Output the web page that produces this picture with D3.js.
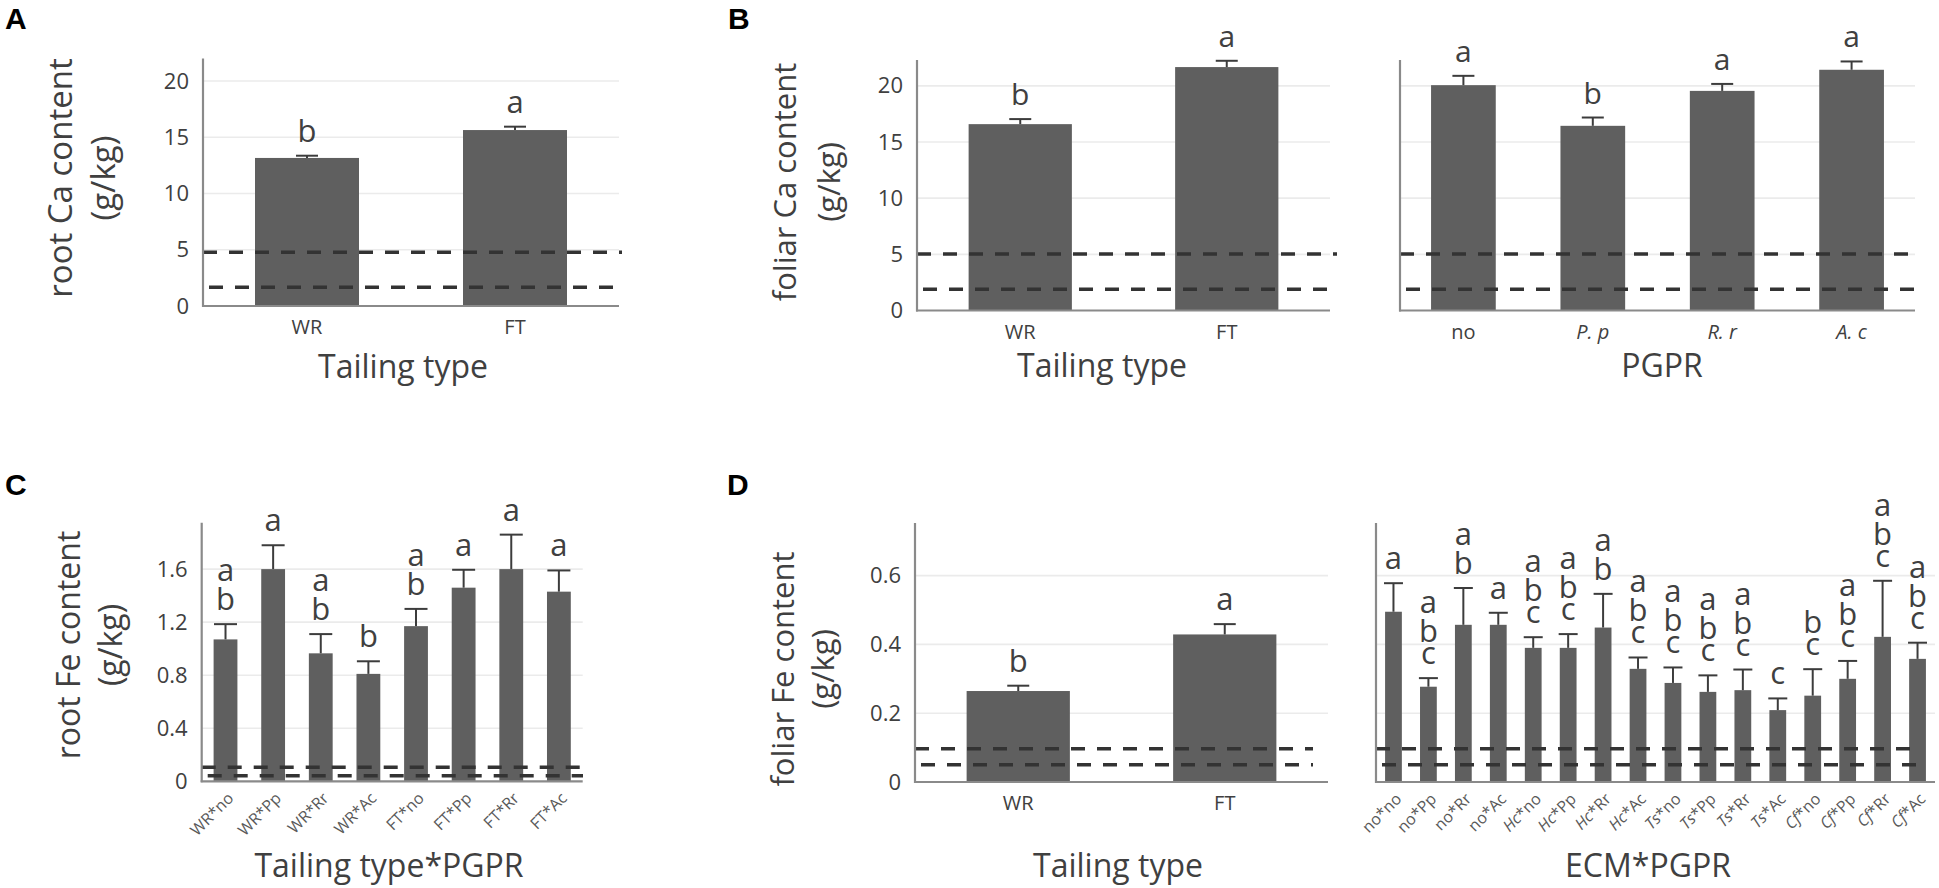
<!DOCTYPE html>
<html><head><meta charset="utf-8">
<script src="https://cdn.jsdelivr.net/npm/d3@7/dist/d3.min.js"></script>
<style>body{margin:0;background:#fff}svg{display:block}</style>
</head><body>
<script>
// ---------- DATA ----------
const tailCats = ["WR", "FT"];
const aVals = [13.16, 15.64];
const aErrs = [0.2, 0.3];
const aLetters = ["b", "a"];
const aTicks = [0, 5, 10, 15, 20];
const aLimits = [4.77, 1.66];

const bTailVals = [16.59, 21.67];
const bTailErrs = [0.45, 0.56];
const bTailLetters = ["b", "a"];
const pgprCats = ["no", "P. p", "R. r", "A. c"];
const bPgprVals = [20.06, 16.44, 19.55, 21.43];
const bPgprErrs = [0.83, 0.74, 0.62, 0.74];
const bPgprLetters = ["a", "b", "a", "a"];
const bTicks = [0, 5, 10, 15, 20];
const bLimits = [5.03, 1.89];

const cCats = ["WR*no", "WR*Pp", "WR*Rr", "WR*Ac", "FT*no", "FT*Pp", "FT*Rr", "FT*Ac"];
const cVals = [1.07, 1.6, 0.965, 0.81, 1.17, 1.46, 1.6, 1.43];
const cErrs = [0.115, 0.18, 0.145, 0.095, 0.13, 0.135, 0.26, 0.16];
const cLetters = ["ab", "a", "ab", "b", "ab", "a", "a", "a"];
const cTicks = [0, 0.4, 0.8, 1.2, 1.6];
const cLimits = [0.106, 0.042];

const dTailVals = [0.2645, 0.429];
const dTailErrs = [0.0155, 0.03];
const dTailLetters = ["b", "a"];
const ecmCats = ["no*no", "no*Pp", "no*Rr", "no*Ac", "Hc*no", "Hc*Pp", "Hc*Rr", "Hc*Ac",
                 "Ts*no", "Ts*Pp", "Ts*Rr", "Ts*Ac", "Cf*no", "Cf*Pp", "Cf*Rr", "Cf*Ac"];
const dEcmVals = [0.495, 0.277, 0.457, 0.457, 0.39, 0.39, 0.449, 0.329,
                  0.288, 0.262, 0.267, 0.209, 0.251, 0.30, 0.422, 0.358];
const dEcmErrs = [0.083, 0.025, 0.107, 0.035, 0.031, 0.04, 0.098, 0.033,
                  0.045, 0.048, 0.06, 0.034, 0.077, 0.052, 0.163, 0.047];
const dEcmLetters = ["a", "abc", "ab", "a", "abc", "abc", "ab", "abc",
                     "abc", "abc", "abc", "c", "bc", "abc", "abc", "abc"];
const dTicks = [0, 0.2, 0.4, 0.6];
const dLimits = [0.097, 0.05];

// ---------- DRAW ----------
const W = 1939, H = 888;
const svg = d3.select("body").append("svg").attr("width", W).attr("height", H)
  .style("font-family", "'Open Sans', sans-serif");

const BAR = "#5f5f5f", TXT = "#404040", AXIS = "#8a8a8a", GRID = "#ebebeb";

function panel(o) {
  const g = svg.append("g");
  const x = d3.scaleBand().domain(o.cats).range([o.x0, o.x1])
    .paddingInner(o.padIn).paddingOuter(o.padOut);
  const y = d3.scaleLinear().domain([0, o.yMax]).range([o.base, o.top]);
  const cx = i => x(o.cats[i]) + x.bandwidth() / 2;

  // gridlines
  g.selectAll(".grid").data(o.ticks.filter(t => t > 0)).join("line")
    .attr("x1", o.x0).attr("x2", o.x1)
    .attr("y1", d => y(d)).attr("y2", d => y(d))
    .attr("stroke", GRID).attr("stroke-width", 1.6);

  // bars
  g.selectAll(".bar").data(o.vals).join("rect")
    .attr("x", (d, i) => x(o.cats[i])).attr("width", x.bandwidth())
    .attr("y", d => y(d)).attr("height", d => y(0) - y(d))
    .attr("fill", BAR);

  // error bars
  const eb = g.selectAll(".eb").data(o.vals).join("g");
  eb.append("line")
    .attr("x1", (d, i) => cx(i)).attr("x2", (d, i) => cx(i))
    .attr("y1", d => y(d)).attr("y2", (d, i) => y(d + o.errs[i]))
    .attr("stroke", "#3c3c3c").attr("stroke-width", 2);
  eb.append("line")
    .attr("x1", (d, i) => cx(i) - o.capW / 2).attr("x2", (d, i) => cx(i) + o.capW / 2)
    .attr("y1", (d, i) => y(d + o.errs[i])).attr("y2", (d, i) => y(d + o.errs[i]))
    .attr("stroke", "#3c3c3c").attr("stroke-width", 2);

  // significance letters: one text element per bar, glyphs stacked via x/y lists
  o.vals.forEach((d, i) => {
    const letters = o.letters[i].split("");
    const bottom = y(d + o.errs[i]) - 14;
    const offs = new Array(letters.length).fill(0);
    for (let k = letters.length - 2; k >= 0; k--) {
      offs[k] = offs[k + 1] + (letters[k + 1] === "c" ? 22 : 29);
    }
    g.append("text").attr("text-anchor", "middle")
      .attr("font-size", o.letterSize).attr("fill", TXT)
      .attr("x", letters.map(() => cx(i).toFixed(2)).join(" "))
      .attr("y", offs.map(v => (bottom - v).toFixed(2)).join(" "))
      .text(letters.join(""));
  });

  // threshold dashed lines
  g.selectAll(".lim").data(o.limits).join("line")
    .attr("x1", o.x0).attr("x2", o.limEnd)
    .attr("y1", d => y(d)).attr("y2", d => y(d))
    .attr("stroke", "#333").attr("stroke-width", 3.5)
    .attr("stroke-dasharray", "14,12")
    .attr("stroke-dashoffset", (d, i) => i === 0 ? 0 : -6);

  // axis lines
  g.append("line").attr("x1", o.x0).attr("x2", o.x0).attr("y1", o.base + 1).attr("y2", o.top)
    .attr("stroke", AXIS).attr("stroke-width", 2.2);
  g.append("line").attr("x1", o.x0 - 1).attr("x2", o.x1).attr("y1", o.base).attr("y2", o.base)
    .attr("stroke", AXIS).attr("stroke-width", 2.2);

  // y tick labels
  if (o.yLabels) {
    const ya = g.append("g").attr("transform", `translate(${o.x0},0)`)
      .call(d3.axisLeft(y).tickValues(o.ticks).tickSize(0).tickPadding(14).tickFormat(o.fmt));
    ya.select(".domain").remove();
    ya.selectAll("text").attr("font-size", 22).attr("fill", TXT)
      .style("font-family", "'Open Sans', sans-serif");
  }

  // x tick labels
  const xa = g.append("g").attr("transform", `translate(0,${o.base})`)
    .call(d3.axisBottom(x).tickSize(0).tickPadding(o.rotate ? 0 : 14));
  xa.select(".domain").remove();
  xa.selectAll("text").style("font-family", "'Open Sans', sans-serif");
  if (o.rotate) {
    xa.selectAll("text")
      .attr("y", 0).attr("dy", "0.35em")
      .attr("text-anchor", "end")
      .attr("transform", "translate(5,14) rotate(-45)")
      .attr("font-size", 16).attr("fill", "#595959");
  } else {
    xa.selectAll("text").attr("font-size", 20).attr("fill", TXT);
  }
  if (o.italic) {
    xa.selectAll("text").each(function (d) {
      const t = d3.select(this);
      t.text(null);
      if (o.italic === "all") {
        t.append("tspan").attr("font-style", d === "no" ? "normal" : "italic").text(d);
      } else {
        const [a, b] = d.split("*");
        t.append("tspan").attr("font-style", a === "no" ? "normal" : "italic").text(a);
        t.append("tspan").text("*" + b);
      }
    });
  }

  // y title
  if (o.yTitle) {
    o.yTitle.forEach((s, i) => {
      g.append("text")
        .attr("transform", `translate(${o.yTitleX[i]},${o.yTitleY}) rotate(-90)`)
        .attr("text-anchor", "middle").attr("font-size", o.yTitleSize)
        .attr("fill", TXT).text(s);
    });
  }
  // x title
  g.append("text").attr("x", o.xTitleX).attr("y", o.xTitleY)
    .attr("text-anchor", "middle").attr("font-size", 32).attr("fill", TXT).text(o.xTitle);
}

const f0 = d3.format("d"), f1 = d => d === 0 ? "0" : d3.format(".1f")(d);

// Panel A
panel({ cats: tailCats, vals: aVals, errs: aErrs, letters: aLetters, ticks: aTicks, limits: aLimits,
  x0: 203, x1: 619, limEnd: 622, base: 306, top: 58.5, yMax: 22, padIn: 0.5, padOut: 0.25,
  capW: 22, letterSize: 31, yLabels: true, fmt: f0,
  yTitle: ["root Ca content", "(g/kg)"], yTitleX: [72, 115], yTitleY: 178, yTitleSize: 33,
  xTitle: "Tailing type", xTitleX: 403, xTitleY: 378 });

// Panel B left
panel({ cats: tailCats, vals: bTailVals, errs: bTailErrs, letters: bTailLetters, ticks: bTicks, limits: bLimits,
  x0: 917, x1: 1330, limEnd: 1337, base: 310.5, top: 60, yMax: 22.3, padIn: 0.5, padOut: 0.25,
  capW: 22, letterSize: 30, yLabels: true, fmt: f0,
  yTitle: ["foliar Ca content", "(g/kg)"], yTitleX: [796, 840], yTitleY: 182, yTitleSize: 31,
  xTitle: "Tailing type", xTitleX: 1102, xTitleY: 377 });

// Panel B right
panel({ cats: pgprCats, vals: bPgprVals, errs: bPgprErrs, letters: bPgprLetters, ticks: bTicks, limits: bLimits,
  x0: 1400, x1: 1915, limEnd: 1919, base: 310.5, top: 60, yMax: 22.3, padIn: 0.5, padOut: 0.24,
  capW: 22, letterSize: 30, yLabels: false, italic: "all",
  xTitle: "PGPR", xTitleX: 1662, xTitleY: 377 });

// Panel C
panel({ cats: cCats, vals: cVals, errs: cErrs, letters: cLetters, ticks: cTicks, limits: cLimits,
  x0: 201.7, x1: 582.7, limEnd: 583, base: 781.3, top: 522.7, yMax: 1.95, padIn: 0.5, padOut: 0.25,
  capW: 23, letterSize: 31, yLabels: true, fmt: f1, rotate: true,
  yTitle: ["root Fe content", "(g/kg)"], yTitleX: [80, 122], yTitleY: 645, yTitleSize: 32,
  xTitle: "Tailing type*PGPR", xTitleX: 389, xTitleY: 877 });

// Panel D left
panel({ cats: tailCats, vals: dTailVals, errs: dTailErrs, letters: dTailLetters, ticks: dTicks, limits: dLimits,
  x0: 915, x1: 1328, limEnd: 1313, base: 782, top: 523, yMax: 0.753, padIn: 0.5, padOut: 0.25,
  capW: 22, letterSize: 31, yLabels: true, fmt: f1,
  yTitle: ["foliar Fe content", "(g/kg)"], yTitleX: [794, 834], yTitleY: 669, yTitleSize: 31,
  xTitle: "Tailing type", xTitleX: 1118, xTitleY: 877 });

// Panel D right
panel({ cats: ecmCats, vals: dEcmVals, errs: dEcmErrs, letters: dEcmLetters, ticks: dTicks, limits: dLimits,
  x0: 1376, x1: 1935, limEnd: 1921, base: 782, top: 523, yMax: 0.753, padIn: 0.52, padOut: 0.26,
  capW: 19, letterSize: 31, yLabels: false, rotate: true, italic: "ecm",
  xTitle: "ECM*PGPR", xTitleX: 1648, xTitleY: 877 });

// panel letters
[["A", 5, 29], ["B", 728, 29], ["C", 5, 495], ["D", 727, 495]].forEach(([t, px, py]) => {
  svg.append("text").attr("x", px).attr("y", py).attr("font-size", 30).attr("font-weight", "bold")
    .style("font-family", "'Liberation Sans', Arial, sans-serif").attr("fill", "#000").text(t);
});
</script>
</body></html>
